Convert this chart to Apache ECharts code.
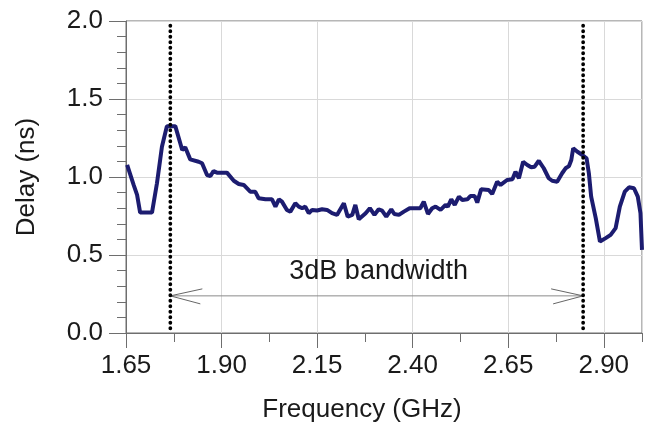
<!DOCTYPE html>
<html>
<head>
<meta charset="utf-8">
<script src="https://cdn.jsdelivr.net/npm/echarts@6/dist/echarts.min.js"></script>
<style>
html,body{margin:0;padding:0;background:#fff;}
#chart{width:654px;height:434px;}
</style>
</head>
<body>
<div id="chart"></div>
<script>
// ---- data ----
const freq = [1.653,1.657,1.670,1.679,1.687,1.718,1.731,1.744,1.757,1.779,1.792,1.797,1.805,1.818,1.840,1.849,1.862,1.871,1.879,1.888,1.914,1.932,1.945,1.958,
  1.975,1.988,1.997,2.015,2.032,2.041,2.050,2.058,2.071,2.080,2.093,2.102,2.111,2.119,2.128,2.137,2.150,2.163,2.176,2.189,2.202,2.220,2.230,2.242,2.250,2.259,
  2.277,2.288,2.300,2.311,2.320,2.331,2.344,2.352,2.364,2.377,2.392,2.407,2.420,2.429,2.440,2.451,2.460,2.473,2.486,2.492,2.501,2.510,2.521,2.530,2.543,2.551,2.562,2.569,
  2.579,2.599,2.608,2.621,2.630,2.647,2.661,2.669,2.678,2.689,2.700,2.710,2.719,2.730,2.743,2.756,2.765,2.778,2.791,2.800,2.809,2.815,2.820,2.831,2.844,2.855,2.861,2.867,2.879,2.890,2.905,2.918,2.931,2.942,2.955,2.966,2.979,2.989,2.996,3.000];
const delay = [1.077,1.088,0.949,0.885,0.772,0.772,0.960,1.194,1.326,1.326,1.216,1.173,1.190,1.113,1.098,1.088,1.013,1.006,1.038,1.028,1.028,0.976,0.955,0.949,
  0.906,0.906,0.864,0.857,0.857,0.810,0.857,0.842,0.789,0.778,0.832,0.810,0.800,0.810,0.768,0.789,0.785,0.793,0.789,0.768,0.757,0.832,0.746,0.757,0.821,0.729,
  0.768,0.800,0.757,0.793,0.785,0.746,0.793,0.763,0.757,0.778,0.800,0.800,0.800,0.842,0.763,0.800,0.810,0.789,0.821,0.810,0.857,0.821,0.874,0.853,0.857,0.878,0.878,0.836,
  0.921,0.917,0.891,0.970,0.949,0.981,0.985,1.034,0.992,1.098,1.077,1.062,1.066,1.104,1.056,0.992,0.976,0.970,1.024,1.056,1.070,1.109,1.184,1.162,1.141,1.120,1.024,0.874,0.736,0.586,0.608,0.629,0.672,0.810,0.906,0.934,0.928,0.874,0.768,0.533];
const xMin = 1.65, xMax = 3.0, xStep = 0.25;
const yMin = 0, yMax = 2.0, yStep = 0.5;
const bandEdges = [1.766, 2.846];       // dotted 3dB markers (GHz)
const bandLineTop = 2.0, bandLineBottom = 0.03;
const arrowY = 0.238;                    // ns
const bandLabel = '3dB bandwidth';
const bandLabelPos = [2.311, 0.394];
const xTitle = 'Frequency (GHz)';
const yTitle = 'Delay (ns)';

// x axis is offset so ticks start exactly at xMin
const sx = f => +(f - xMin).toFixed(6);
const FONT = "'Liberation Sans', Arial, sans-serif";
const TXT = '#1a1a1a';
const AX = '#6e6e6e';

const curve = freq.map((f, i) => [sx(f), delay[i]]);

const chart = echarts.init(document.getElementById('chart'), null, {renderer: 'canvas'});
chart.setOption({
  animation: false,
  backgroundColor: '#fff',
  grid: {left: 126, right: 12, top: 21, bottom: 101, show: true, borderColor: AX, borderWidth: 1, backgroundColor: 'transparent'},
  xAxis: [{
    type: 'value', min: 0, max: sx(xMax), interval: xStep,
    name: xTitle, nameLocation: 'middle', nameGap: 64,
    nameTextStyle: {color: TXT, fontSize: 26, fontFamily: FONT, padding: [0, 44, 0, 0]},
    axisLine: {show: true, lineStyle: {color: AX, width: 1}},
    axisTick: {show: true, length: 15, lineStyle: {color: AX}},
    axisLabel: {margin: 20, color: TXT, fontSize: 26, fontFamily: FONT, showMaxLabel: false,
      formatter: v => (v + xMin).toFixed(2)},
    splitLine: {show: true, lineStyle: {color: '#d9d9d9', width: 1}}
  }, {
    type: 'value', min: 0, max: sx(xMax), interval: xStep / 2, position: 'bottom',
    axisLine: {show: false}, axisLabel: {show: false}, splitLine: {show: false},
    axisTick: {show: true, length: 9, lineStyle: {color: AX}}
  }],
  yAxis: {
    type: 'value', min: yMin, max: yMax, interval: yStep,
    name: yTitle, nameLocation: 'middle', nameGap: 86,
    nameTextStyle: {color: TXT, fontSize: 26, fontFamily: FONT},
    axisLine: {show: true, lineStyle: {color: AX, width: 1}},
    axisTick: {show: true, length: 17, lineStyle: {color: AX}},
    minorTick: {show: true, splitNumber: 5, length: 9, lineStyle: {color: AX}},
    axisLabel: {margin: 23, color: TXT, fontSize: 26, fontFamily: FONT, formatter: v => v.toFixed(1)},
    splitLine: {show: true, lineStyle: {color: '#d9d9d9', width: 1}}
  },
  series: [
    {
      type: 'line', data: curve, xAxisIndex: 0, showSymbol: false, symbol: 'none',
      lineStyle: {color: '#1c1c70', width: 4}, z: 5
    },
    ...bandEdges.map(e => ({
      type: 'line', xAxisIndex: 0, symbol: 'none', silent: true, z: 6,
      data: [[sx(e), bandLineBottom], [sx(e), bandLineTop]],
      lineStyle: {color: '#000', width: 3.8, type: [0.1, 5.4], cap: 'round'}
    })),
    {
      type: 'custom', xAxisIndex: 0, silent: true, z: 4,
      data: [[sx(bandEdges[0]), arrowY, sx(bandEdges[1])]],
      encode: {x: [0, 2], y: 1},
      renderItem: (params, api) => {
        const a = api.coord([api.value(0), api.value(1)]);
        const b = api.coord([api.value(2), api.value(1)]);
        const t = api.coord([sx(bandLabelPos[0]), bandLabelPos[1]]);
        const st = {stroke: '#8a8a8a', lineWidth: 1};
        const st2 = {stroke: '#555', lineWidth: 0.9};
        return {type: 'group', children: [
          {type: 'line', shape: {x1: a[0], y1: a[1], x2: b[0], y2: b[1]}, style: st},
          {type: 'line', shape: {x1: a[0], y1: a[1], x2: a[0] + 32, y2: a[1] - 7}, style: st2},
          {type: 'line', shape: {x1: a[0], y1: a[1], x2: a[0] + 30, y2: a[1] + 8}, style: st2},
          {type: 'line', shape: {x1: b[0], y1: b[1], x2: b[0] - 32, y2: b[1] - 7}, style: st2},
          {type: 'line', shape: {x1: b[0], y1: b[1], x2: b[0] - 30, y2: b[1] + 8}, style: st2},
          {type: 'text', x: t[0], y: t[1], style: {text: bandLabel, fill: TXT, font: '27px ' + FONT, align: 'center', verticalAlign: 'middle'}}
        ]};
      }
    }
  ]
});
</script>
</body>
</html>
